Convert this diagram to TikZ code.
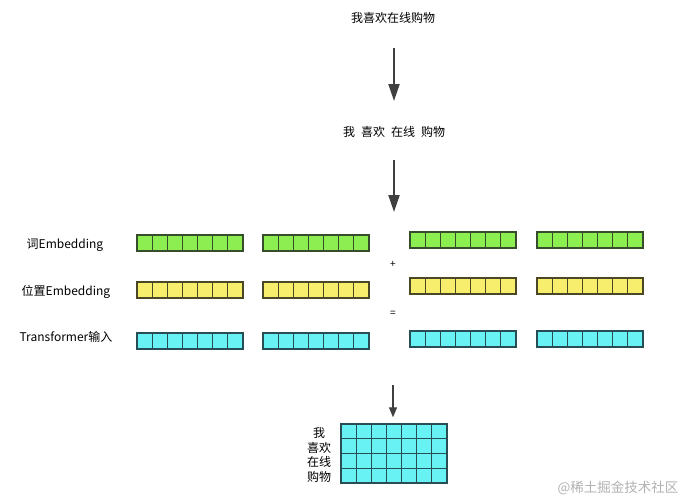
\documentclass[tikz,border=0pt]{standalone}
\usepackage{fontspec}
\setmainfont{Noto Sans CJK SC}
\usetikzlibrary{arrows.meta}
\definecolor{gfill}{HTML}{8DEE52}
\definecolor{gline}{HTML}{354D2A}
\definecolor{yfill}{HTML}{F6EE6C}
\definecolor{yline}{HTML}{4A4726}
\definecolor{cfill}{HTML}{68F2F4}
\definecolor{cline}{HTML}{264E54}
\definecolor{arrowc}{HTML}{404040}
\newcommand\embrow[4]{%
  \filldraw[fill=#3,draw=#4,line width=1.4pt] (#1,#2) rectangle ++(106,16);
  \foreach \i in {1,...,6} \draw[draw=#4,line width=1.2pt] (#1+\i*15.143,#2) -- ++(0,16);
}
\begin{document}
\begin{tikzpicture}[x=1pt,y=-1pt,
  title/.style={font=\fontsize{12}{14}\selectfont,inner sep=0pt,anchor=center},
  lab/.style={font=\fontsize{12}{14}\selectfont,inner sep=0pt,anchor=center},
  bigarrow/.style={draw=arrowc,line width=2pt,-{Triangle[length=17pt,width=11pt]}},
  smallarrow/.style={draw=arrowc,line width=1.2pt,-{Triangle[length=10pt,width=8pt]}}]
\useasboundingbox[fill=white] (0,0) rectangle (687,503);
\node[title] (t1) at (393,18) {我喜欢在线购物};
\node[title] (t2) at (394,132) {我\hspace{0.5em}喜欢\hspace{0.5em}在线\hspace{0.5em}购物};
\coordinate (a1s) at (394,48);
\coordinate (a1e) at (394,101);
\coordinate (a2s) at (394,160);
\coordinate (a2e) at (394,212);
\draw[bigarrow] (a1s) -- (a1e);
\draw[bigarrow] (a2s) -- (a2e);
% labels
\node[lab] (l1) at (65,245) {词Embedding};
\node[lab] (l2) at (66,292) {位置Embedding};
\node[lab] (l3) at (66,337) {Transformer输入};
\node[lab,font=\fontsize{10}{11}\selectfont] (plus) at (393,264) {+};
\node[lab,font=\fontsize{10}{11}\selectfont] (eq) at (393,314) {=};
% rows
\embrow{137}{235}{gfill}{gline}
\embrow{263}{235}{gfill}{gline}
\embrow{410}{232}{gfill}{gline}
\embrow{537}{232}{gfill}{gline}
\embrow{137}{282}{yfill}{yline}
\embrow{263}{282}{yfill}{yline}
\embrow{410}{278}{yfill}{yline}
\embrow{537}{278}{yfill}{yline}
\embrow{137}{333}{cfill}{cline}
\embrow{263}{333}{cfill}{cline}
\embrow{410}{331}{cfill}{cline}
\embrow{537}{331}{cfill}{cline}
% matrix
\node[draw=cline,fill=cfill,line width=1.4pt,minimum width=106pt,minimum height=59pt,inner sep=0pt] (mat) at (394,453.5) {};
\foreach \i in {1,...,6} \draw[draw=cline,line width=1.2pt] (341+\i*15.143,424) -- ++(0,59);
\foreach \j in {1,...,3} \draw[draw=cline,line width=1.2pt] (341,424+\j*14.75) -- ++(106,0);
\coordinate (a3s) at (393,385);
\draw[smallarrow] (a3s) -- (mat.north -| a3s) [shorten >=6pt];
\node[lab] (m1) at (319,433) {我};
\node[lab] (m2) at (319,448) {喜欢};
\node[lab] (m3) at (319,462) {在线};
\node[lab] (m4) at (319,477) {购物};
\node[lab,font=\fontsize{13.5}{15}\selectfont,text=black!30] (wm) at (618,488) {@稀土掘金技术社区};
\end{tikzpicture}
\end{document}
